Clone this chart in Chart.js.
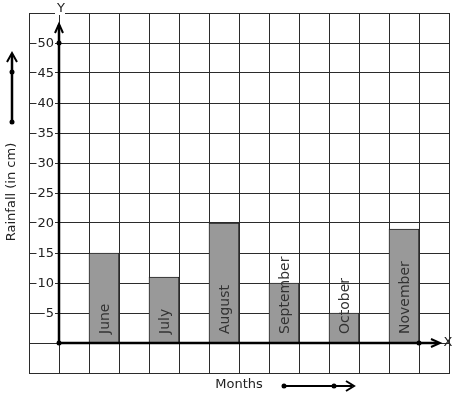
<!DOCTYPE html>
<html>
<head>
<meta charset="utf-8">
<script src="https://cdn.jsdelivr.net/npm/chart.js@4.4.1/dist/chart.umd.min.js"></script>
<style>
  html, body { margin: 0; padding: 0; background: #fff; }
  #wrap { width: 457px; height: 399px; }
</style>
</head>
<body>
<div id="wrap"><canvas id="chart" width="457" height="399"></canvas></div>
<script>
// datos del grafico
const MESES = ['June', 'July', 'August', 'September', 'October', 'November'];
const LLUVIA = [15, 11, 20, 10, 5, 19];
const TICKS_Y = [5, 10, 15, 20, 25, 30, 35, 40, 45, 50];

// columnas del papel cuadriculado: dos vacias, luego mes / vacio
const etiquetas = ['', ''];
const valores = [null, null];
MESES.forEach((m, i) => {
  etiquetas.push(m, '');
  valores.push(LLUVIA[i], null);
});

const GRID = '#2b2b2b';
const FONT = '"DejaVu Sans", sans-serif';

function punto(ctx, x, y) {
  ctx.beginPath(); ctx.arc(x, y, 2.5, 0, Math.PI * 2); ctx.fill();
}

// dibuja ejes con flechas, textos y decoraciones
const decoracion = {
  id: 'decoracion',
  afterDatasetsDraw(chart) {
    const { ctx, scales: { x, y } } = chart;
    const x0 = (x.getPixelForValue(0) + x.getPixelForValue(1)) / 2;
    const y0 = y.getPixelForValue(0);
    const yTop = y.getPixelForValue(50);
    const xEnd = (x.getPixelForValue(12) + x.getPixelForValue(13)) / 2;
    ctx.save();

    // etiquetas dentro de las barras
    const meta = chart.getDatasetMeta(0);
    ctx.fillStyle = '#333';
    ctx.font = '14px ' + FONT;
    ctx.textAlign = 'left';
    ctx.textBaseline = 'middle';
    meta.data.forEach((bar, i) => {
      const lbl = etiquetas[i];
      if (!lbl) return;
      ctx.save();
      ctx.translate(bar.x, y0 - 9);
      ctx.rotate(-Math.PI / 2);
      ctx.fillText(lbl, 0, 1);
      ctx.restore();
    });

    // ticks del eje y
    ctx.font = '13px ' + FONT;
    ctx.textAlign = 'right';
    TICKS_Y.forEach(v => {
      const py = y.getPixelForValue(v);
      const w = ctx.measureText(String(v)).width;
      ctx.fillStyle = '#fff';
      ctx.fillRect(x0 - 5 - w - 1, py - 7, w + 2, 14);
      ctx.fillStyle = '#222';
      ctx.fillText(String(v), x0 - 5, py + 1);
    });

    // ejes gruesos
    ctx.strokeStyle = '#000';
    ctx.fillStyle = '#000';
    ctx.lineWidth = 2.5;
    ctx.beginPath();
    ctx.moveTo(x0, y0); ctx.lineTo(x0, 25);
    ctx.moveTo(x0, y0); ctx.lineTo(438, y0);
    ctx.stroke();
    ctx.lineWidth = 2;
    ctx.beginPath();
    ctx.moveTo(x0 - 4, 33); ctx.lineTo(x0, 24); ctx.lineTo(x0 + 4, 33);
    ctx.moveTo(431, y0 - 4); ctx.lineTo(440, y0); ctx.lineTo(431, y0 + 4);
    ctx.stroke();
    punto(ctx, x0, y0);
    punto(ctx, x0, yTop);
    punto(ctx, xEnd, y0);

    // letras de los ejes
    ctx.font = '13px ' + FONT;
    ctx.textAlign = 'center';
    ctx.fillStyle = '#fff';
    ctx.fillRect(x0 - 4, 3, 10, 12);
    ctx.fillStyle = '#222';
    ctx.fillText('Y', x0 + 2, 9);
    ctx.fillText('X', 448, y0);

    // titulos
    ctx.fillText('Months', 239, 385);
    ctx.save();
    ctx.translate(12, 192);
    ctx.rotate(-Math.PI / 2);
    ctx.fillText('Rainfall (in cm)', 0, 0);
    ctx.restore();

    // flecha vertical izquierda
    ctx.strokeStyle = '#000';
    ctx.fillStyle = '#000';
    ctx.lineWidth = 2.5;
    ctx.beginPath(); ctx.moveTo(12, 122); ctx.lineTo(12, 55); ctx.stroke();
    ctx.lineWidth = 2;
    ctx.beginPath(); ctx.moveTo(7, 62); ctx.lineTo(12, 53); ctx.lineTo(17, 62); ctx.stroke();
    punto(ctx, 12, 72);
    punto(ctx, 12, 122);

    // flecha horizontal abajo
    ctx.lineWidth = 2;
    ctx.beginPath(); ctx.moveTo(284, 386); ctx.lineTo(352, 386); ctx.stroke();
    ctx.beginPath(); ctx.moveTo(346, 381); ctx.lineTo(354, 386); ctx.lineTo(346, 391); ctx.stroke();
    punto(ctx, 284, 386);
    punto(ctx, 334, 386);

    ctx.restore();
  }
};

new Chart(document.getElementById('chart'), {
  type: 'bar',
  data: {
    labels: etiquetas,
    datasets: [{
      data: valores,
      backgroundColor: '#999999',
      borderColor: '#222',
      borderWidth: 1,
      barPercentage: 1,
      categoryPercentage: 1
    }]
  },
  options: {
    responsive: false,
    animation: false,
    layout: { padding: { left: 29, right: 8, top: 13, bottom: 26 } },
    plugins: { legend: { display: false }, tooltip: { enabled: false } },
    scales: {
      x: {
        grid: { color: GRID, lineWidth: 1, drawTicks: false, offset: true },
        border: { display: true, color: GRID },
        ticks: { display: false }
      },
      y: {
        min: -5, max: 55,
        grid: { color: GRID, lineWidth: 1, drawTicks: false },
        border: { display: true, color: GRID },
        ticks: { display: false, stepSize: 5 }
      }
    }
  },
  plugins: [decoracion]
});
</script>
</body>
</html>
